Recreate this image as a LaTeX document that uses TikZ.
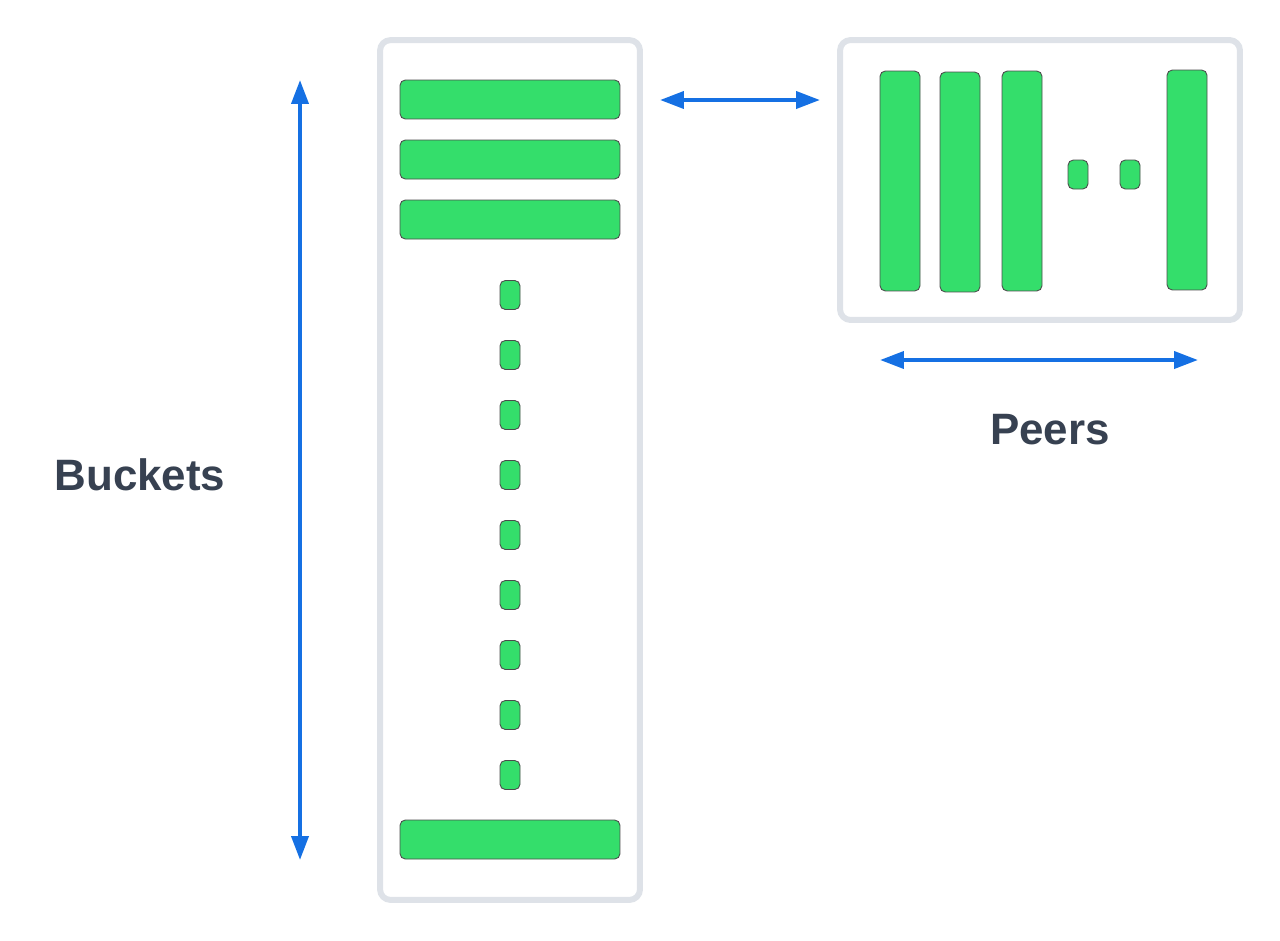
\documentclass[tikz,border=0pt]{standalone}
\usepackage{fontspec}
\setmainfont{Liberation Sans}
\usetikzlibrary{arrows.meta,positioning}
\definecolor{bargreen}{HTML}{34DE6B}
\definecolor{boxgray}{HTML}{DEE2E8}
\definecolor{spanblue}{HTML}{1570E3}
\definecolor{labelgray}{HTML}{374151}
\begin{document}
\begin{tikzpicture}[x=0.02cm, y=-0.02cm,
        box/.style = {draw=boxgray, line width=3.4pt, rounded corners=6pt, inner sep=0pt},
        bar/.style = {draw=black!70, fill=bargreen, line width=0.5pt, rounded corners=3pt, inner sep=0pt},
        hbar/.style = {bar, minimum width=4.4cm, minimum height=0.78cm},
        vbar/.style = {bar, minimum width=0.8cm, minimum height=4.4cm},
        dotbar/.style = {bar, minimum width=0.4cm, minimum height=0.58cm},
        span/.style = {draw=spanblue, line width=2.3pt,
            {Triangle[length=13.6pt,width=9.6pt]}-{Triangle[length=13.6pt,width=9.6pt]}},
        lbl/.style = {font=\bfseries\fontsize{25}{30}\selectfont, text=labelgray}
    ]
        \useasboundingbox (0,0) rectangle (1280,940);
        % containers
        \node[box, minimum width=5.2cm, minimum height=17.2cm] (buckets) at (510,470) {};
        \node[box, minimum width=8cm, minimum height=5.6cm] (peers) at (1040,180) {};
        % buckets
        \node[hbar] (b1) at (510,99.5) {};
        \node[hbar] (b2) at (510,159.5) {};
        \node[hbar] (b3) at (510,219.5) {};
        \foreach \i in {0,...,8}
            \node[dotbar] (bd\i) at (510,295+60*\i) {};
        \node[hbar] (bn) at (510,839.5) {};
        % peers
        \node[vbar] (p1) at (900,181) {};
        \node[vbar] (p2) at (960,182) {};
        \node[vbar] (p3) at (1022,181) {};
        \node[dotbar] (pd1) at (1078,174.5) {};
        \node[dotbar] (pd2) at (1130,174.5) {};
        \node[vbar] (pn) at (1187,180) {};
        % spans
        \coordinate (vtop) at (300,80);
        \coordinate (vbot) at (300,860);
        \coordinate (link1) at (660,100);
        \coordinate (link2) at (820,100);
        \coordinate (pleft) at (880,360);
        \coordinate (pright) at (1198,360);
        \draw[span] (vtop) -- (vbot);
        \draw[span] (link1) -- (link2);
        \draw[span] (pleft) -- (pright);
        \node[lbl] (bklabel) at (140,475) {Buckets};
        \node[lbl] (prlabel) at (1050,430) {Peers};
    \end{tikzpicture}
\end{document}
